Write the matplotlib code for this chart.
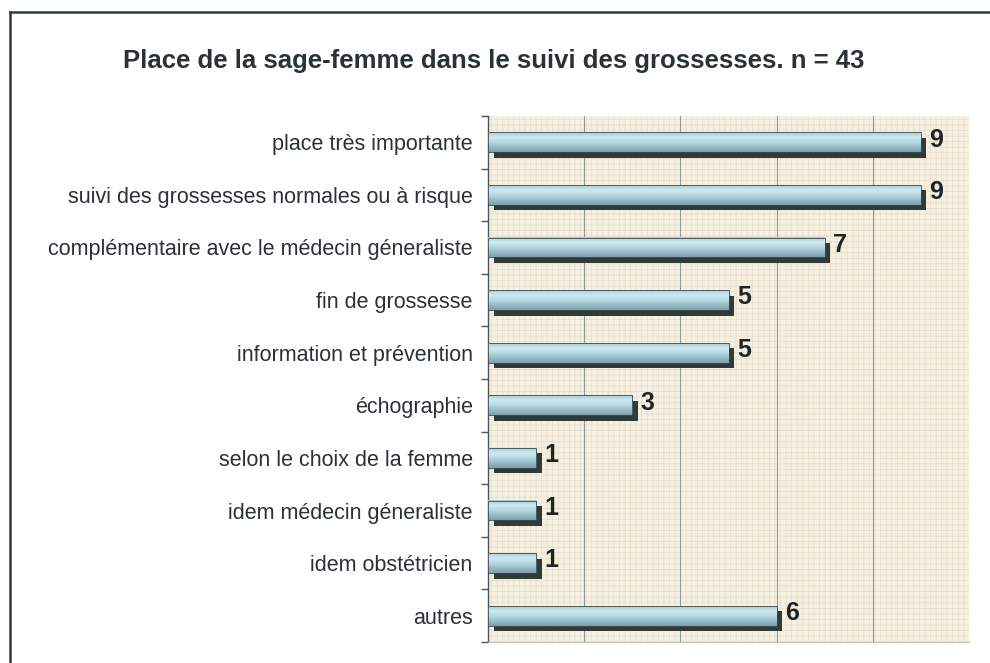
import numpy as np
import matplotlib
matplotlib.use("Agg")
import matplotlib.pyplot as plt
from matplotlib.colors import LinearSegmentedColormap
from matplotlib.patches import Rectangle
import matplotlib.transforms as mtransforms

plt.rcParams['font.family'] = ['Liberation Sans', 'DejaVu Sans']

categories = [
    "place très importante",
    "suivi des grossesses normales ou à risque",
    "complémentaire avec le médecin géneraliste",
    "fin de grossesse",
    "information et prévention",
    "échographie",
    "selon le choix de la femme",
    "idem médecin géneraliste",
    "idem obstétricien",
    "autres",
]
values = [9, 9, 7, 5, 5, 3, 1, 1, 1, 6]
title = "Place de la sage-femme dans le suivi des grossesses. n = 43"

fig = plt.figure(figsize=(9.9, 6.63), dpi=100)
fig.patch.set_facecolor("white")

# outer frame (top and left edges visible)
fig.add_artist(plt.Line2D([10/990, 1.0], [1 - 12/663, 1 - 12/663],
                          transform=fig.transFigure, color="#2f3b3f", lw=1.8))
fig.add_artist(plt.Line2D([10/990, 10/990], [0.0, 1 - 12/663],
                          transform=fig.transFigure, color="#2f3b3f", lw=1.8))

fig.text(494/990, 1 - 61/663, title, ha="center", va="center",
         fontsize=18.5, fontweight="bold", color="#2b3236")

ax = fig.add_axes([488/990, 1 - 642/663, (969 - 488)/990, (642 - 116)/663])
ax.set_facecolor("#f6f0e2")

# canvas-like texture on the plotting area
plt.rcParams['hatch.linewidth'] = 0.5
tex = Rectangle((0, 0), 1, 1, transform=ax.transAxes, facecolor="none",
                edgecolor="#e8dec6", hatch="+++", lw=0, zorder=0)
ax.add_patch(tex)

y = np.arange(len(categories))
h = 0.38

# drop shadows: same bars shifted right and down
shadow_tr = mtransforms.offset_copy(ax.transData, fig=fig, x=5.5, y=-5.5, units="dots")
ax.barh(y, values, height=h, color="#2e3b38", transform=shadow_tr, zorder=2)

# cylinder-like gradient fill on each bar
grad = LinearSegmentedColormap.from_list(
    "barshade", ["#a2cdd9", "#cfeaf1", "#b6d9e3", "#98bcc7", "#819fa8"])
g = np.linspace(0, 1, 64).reshape(-1, 1)
for yi, v in zip(y, values):
    ax.imshow(g, cmap=grad, aspect="auto", origin="upper",
              extent=(0, v, yi + h/2, yi - h/2), zorder=3, interpolation="bilinear")
ax.barh(y, values, height=h, facecolor="none", edgecolor="#3c4a4e", lw=0.6, zorder=4)

for yi, v in zip(y, values):
    ax.annotate(str(v), (v, yi), xytext=(6, 2), textcoords="offset points",
                ha="left", va="center", fontsize=18, fontweight="bold",
                color="#1e2528", zorder=5)

ax.set_xlim(0, 10)
ax.set_ylim(len(categories) - 0.5, -0.5)
ax.set_xticks([2, 4, 6, 8])
ax.xaxis.grid(True, color="#8d9ca2", lw=0.8)
ax.set_axisbelow(True)
ax.tick_params(axis="x", length=0, labelbottom=False)

ax.set_yticks(y)
ax.set_yticklabels(categories, fontsize=15.5, color="#2a3235")
ax.set_yticks(np.arange(-0.5, len(categories)), minor=True)
ax.tick_params(axis="y", which="major", length=0, pad=11)
ax.tick_params(axis="y", which="minor", length=5, width=1, color="#4a5558")

for s in ["top", "right"]:
    ax.spines[s].set_visible(False)
ax.spines["left"].set_color("#4a5558")
ax.spines["left"].set_linewidth(1.0)
ax.spines["bottom"].set_color("#c9c4b8")
ax.spines["bottom"].set_linewidth(0.8)

fig.savefig("out.png", dpi=100, facecolor="white")
